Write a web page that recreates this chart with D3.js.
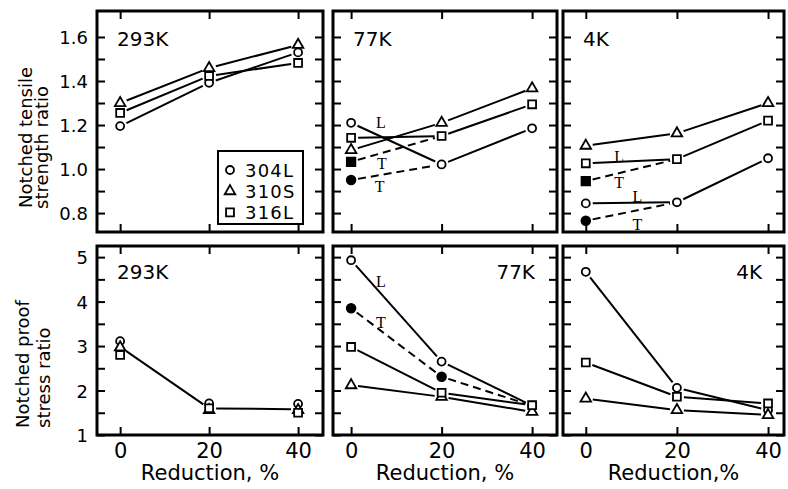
<!DOCTYPE html>
<html>
<head>
<meta charset="utf-8">
<script src="https://cdn.jsdelivr.net/npm/d3@7"></script>
<style>
  body { margin: 0; background: #fff; }
  text { font-family: "DejaVu Sans", sans-serif; fill: #000; }
  .serif { font-family: "Liberation Serif", serif; }
</style>
</head>
<body>
<svg id="chart"></svg>
<script>

const reduction = [0, 20, 40];
const materials = ['304L', '310S', '316L'];
const temps = ['293K', '77K', '4K'];
const ntsTicks = [0.8, 0.9, 1.0, 1.1, 1.2, 1.3, 1.4, 1.5, 1.6];
const ntsLabels = [0.8, 1.0, 1.2, 1.4, 1.6];
const npsTicks = [1, 1.5, 2, 2.5, 3, 3.5, 4, 4.5, 5];
const npsLabels = [1, 2, 3, 4, 5];

// notched tensile strength ratio (L = open marker, T = filled marker)
const nts293_304L = [1.195, 1.392, 1.530];
const nts293_310S = [1.300, 1.459, 1.564];
const nts293_316L = [1.255, 1.423, 1.482];

const nts77_304L_L = [1.210, 1.021, 1.185];
const nts77_304L_T = [0.950];
const nts77_310S = [1.086, 1.210, 1.367];
const nts77_316L_L = [1.142, 1.150, 1.294];
const nts77_316L_T = [1.033];

const nts4_304L_L = [0.844, 0.849, 1.049];
const nts4_304L_T = [0.765];
const nts4_310S = [1.106, 1.162, 1.300];
const nts4_316L_L = [1.026, 1.045, 1.220];
const nts4_316L_T = [0.945];

// notched proof stress ratio
const nps293_304L = [3.11, 1.71, 1.70];
const nps293_310S = [2.97, 1.56, 1.56];
const nps293_316L = [2.80, 1.60, 1.50];
const nps293_trend = [2.98, 1.60, 1.58];

const nps77_304L_L = [4.93, 2.65, 1.66];
const nps77_304L_T = [3.85, 2.31];
const nps77_310S = [2.12, 1.86, 1.52];
const nps77_316L = [2.98, 1.95, 1.67];

const nps4_304L = [4.67, 2.06, 1.56];
const nps4_310S = [1.82, 1.56, 1.45];
const nps4_316L = [2.63, 1.86, 1.71];

// L / T notes: [reduction, ratio, text]
const notes77top = [[6.6, 1.214, 'L'], [6.8, 1.027, 'T'], [6.3, 0.923, 'T']];
const notes4top = [[7.3, 1.056, 'L'], [7.3, 0.941, 'T'], [11.3, 0.874, 'L'], [11.3, 0.75, 'T']];
const notes77bot = [[6.6, 4.445, 'L'], [6.6, 3.53, 'T']];

const width = 788;
const height = 489;

const svg = d3.select('#chart')
  .attr('width', width)
  .attr('height', height);

const cols = [
  { x0: 97, x1: 323, dom: [-5.2, 45.6] },
  { x0: 333, x1: 557, dom: [-4, 45.5] },
  { x0: 563, x1: 784, dom: [-5, 43.5] }
];
const rows = [
  { y0: 11, y1: 232, dom: [0.714, 1.718], ticks: ntsTicks, labels: ntsLabels, fmt: d3.format('.1f') },
  { y0: 246, y1: 435, dom: [1, 5.25], ticks: npsTicks, labels: npsLabels, fmt: d3.format('d') }
];

const symbolType = { '304L': d3.symbolCircle, '310S': d3.symbolTriangle, '316L': d3.symbolSquare };
const symbolSize = { '304L': 50, '310S': 48, '316L': 62 };

const panels = [
  { row: 0, col: 0, temp: temps[0], series: [
    { mat: '304L', values: nts293_304L },
    { mat: '310S', values: nts293_310S },
    { mat: '316L', values: nts293_316L }
  ] },
  { row: 0, col: 1, temp: temps[1], notes: notes77top, series: [
    { mat: '304L', values: nts77_304L_L },
    { mat: '304L', values: nts77_304L_T, filled: true, join: nts77_304L_L },
    { mat: '310S', values: nts77_310S },
    { mat: '316L', values: nts77_316L_L },
    { mat: '316L', values: nts77_316L_T, filled: true, join: nts77_316L_L }
  ] },
  { row: 0, col: 2, temp: temps[2], notes: notes4top, series: [
    { mat: '304L', values: nts4_304L_L },
    { mat: '304L', values: nts4_304L_T, filled: true, join: nts4_304L_L },
    { mat: '310S', values: nts4_310S },
    { mat: '316L', values: nts4_316L_L },
    { mat: '316L', values: nts4_316L_T, filled: true, join: nts4_316L_L }
  ] },
  { row: 1, col: 0, temp: temps[0], series: [
    { values: nps293_trend, noMarker: true },
    { mat: '304L', values: nps293_304L, noLine: true },
    { mat: '310S', values: nps293_310S, noLine: true },
    { mat: '316L', values: nps293_316L, noLine: true }
  ] },
  { row: 1, col: 1, temp: temps[1], tempRight: true, notes: notes77bot, series: [
    { mat: '304L', values: nps77_304L_L },
    { mat: '304L', values: nps77_304L_T, filled: true, join: nps77_304L_L },
    { mat: '310S', values: nps77_310S },
    { mat: '316L', values: nps77_316L }
  ] },
  { row: 1, col: 2, temp: temps[2], tempRight: true, series: [
    { mat: '304L', values: nps4_304L },
    { mat: '310S', values: nps4_310S },
    { mat: '316L', values: nps4_316L }
  ] }
];

// shorten a segment so it stops short of the markers
function segments(pts, gap) {
  const out = [];
  for (let i = 1; i < pts.length; i++) {
    const [ax, ay] = pts[i - 1];
    const [bx, by] = pts[i];
    const len = Math.hypot(bx - ax, by - ay);
    if (len < 2 * gap + 2) continue;
    const ux = (bx - ax) / len, uy = (by - ay) / len;
    out.push([ax + ux * gap, ay + uy * gap, bx - ux * gap, by - uy * gap]);
  }
  return out;
}

panels.forEach(function (p) {
  const c = cols[p.col];
  const r = rows[p.row];
  const x = d3.scaleLinear().domain(c.dom).range([c.x0, c.x1]);
  const y = d3.scaleLinear().domain(r.dom).range([r.y1, r.y0]);

  const g = svg.append('g').attr('class', 'panel');

  // inward ticks on all four sides
  const left = g.append('g')
    .attr('transform', 'translate(' + c.x0 + ',0)')
    .call(d3.axisLeft(y).tickValues(r.ticks).tickSize(-8).tickPadding(9)
      .tickFormat(d => (p.col === 0 && r.labels.some(v => Math.abs(v - d) < 1e-6)) ? r.fmt(d) : ''));
  left.select('.domain').remove();
  left.selectAll('line').attr('stroke', '#000').attr('stroke-width', 2);
  left.selectAll('text').style('font-size', '18px').attr('dy', '0.36em');

  const right = g.append('g')
    .attr('transform', 'translate(' + c.x1 + ',0)')
    .call(d3.axisRight(y).tickValues(r.ticks).tickSize(-8).tickFormat(''));
  right.select('.domain').remove();
  right.selectAll('line').attr('stroke', '#000').attr('stroke-width', 2);

  const top = g.append('g')
    .attr('transform', 'translate(0,' + r.y0 + ')')
    .call(d3.axisTop(x).tickValues(reduction).tickSize(-8).tickFormat(''));
  top.select('.domain').remove();
  top.selectAll('line').attr('stroke', '#000').attr('stroke-width', 2);

  const bottom = g.append('g')
    .attr('transform', 'translate(0,' + r.y1 + ')')
    .call(d3.axisBottom(x).tickValues(reduction).tickSize(-8).tickPadding(8)
      .tickFormat(d => p.row === 1 ? d : ''));
  bottom.select('.domain').remove();
  bottom.selectAll('line').attr('stroke', '#000').attr('stroke-width', 2);
  bottom.selectAll('text').style('font-size', '21px');

  // frame
  g.append('rect')
    .attr('x', c.x0)
    .attr('y', r.y0)
    .attr('width', c.x1 - c.x0)
    .attr('height', r.y1 - r.y0)
    .attr('fill', 'none')
    .attr('stroke', '#000')
    .attr('stroke-width', 3);

  // lines
  p.series.forEach(function (s) {
    if (s.noLine) return;
    const pts = s.values.map((v, i) => [x(reduction[i]), y(v)]);
    if (s.join) {
      const n = s.values.length;
      pts.push([x(reduction[n]), y(s.join[n])]);
    }
    g.selectAll(null)
      .data(segments(pts, 7))
      .enter().append('line')
      .attr('x1', d => d[0]).attr('y1', d => d[1])
      .attr('x2', d => d[2]).attr('y2', d => d[3])
      .attr('stroke', '#000')
      .attr('stroke-width', 2)
      .attr('stroke-dasharray', s.filled ? '8,5' : null);
  });

  // markers
  p.series.forEach(function (s) {
    if (s.noMarker) return;
    g.selectAll(null)
      .data(s.values)
      .enter().append('path')
      .attr('transform', (v, i) => 'translate(' + x(reduction[i]) + ',' + y(v) + ')')
      .attr('d', d3.symbol().type(symbolType[s.mat]).size(s.filled ? symbolSize[s.mat] + 10 : symbolSize[s.mat]))
      .attr('fill', s.filled ? '#000' : '#fff')
      .attr('stroke', '#000')
      .attr('stroke-width', 1.8);
  });

  // L / T notes
  if (p.notes) {
    g.selectAll(null)
      .data(p.notes)
      .enter().append('text')
      .attr('class', 'serif')
      .attr('x', d => x(d[0]))
      .attr('y', d => y(d[1]))
      .attr('dy', '0.35em')
      .attr('text-anchor', 'middle')
      .style('font-size', '16px')
      .text(d => d[2]);
  }

  // temperature label
  g.append('text')
    .attr('x', p.tempRight ? c.x1 - 22 : c.x0 + 20)
    .attr('y', p.row === 0 ? r.y0 + 35 : r.y0 + 33)
    .attr('text-anchor', p.tempRight ? 'end' : 'start')
    .style('font-size', '20px')
    .text(p.temp);

  if (p.row === 1) {
    g.append('text')
      .attr('x', (c.x0 + c.x1) / 2)
      .attr('y', 480)
      .attr('text-anchor', 'middle')
      .style('font-size', '21px')
      .text(p.col === 2 ? 'Reduction,%' : 'Reduction, %');
  }
});

// legend
const legendItems = materials.map((m, i) => ({ mat: m, i: i }));
const legend = svg.append('g').attr('class', 'legend');
legend.append('rect')
  .attr('x', 218).attr('y', 151)
  .attr('width', 85).attr('height', 73)
  .attr('fill', '#fff')
  .attr('stroke', '#000')
  .attr('stroke-width', 2);
legend.selectAll('path')
  .data(legendItems)
  .enter().append('path')
  .attr('transform', d => 'translate(230,' + (170 + d.i * 21.2) + ')')
  .attr('d', d => d3.symbol().type(symbolType[d.mat]).size(symbolSize[d.mat])())
  .attr('fill', '#fff')
  .attr('stroke', '#000')
  .attr('stroke-width', 1.8);
legend.selectAll('text')
  .data(legendItems)
  .enter().append('text')
  .attr('x', 245)
  .attr('y', d => 177 + d.i * 21.2)
  .style('font-size', '18px')
  .style('letter-spacing', '1.2px')
  .text(d => d.mat);

// y axis titles
const titles = [
  { x: 32, y: 208, t: 'Notched tensile' },
  { x: 48, y: 209, t: 'strength ratio' },
  { x: 29, y: 428, t: 'Notched proof' },
  { x: 50, y: 428, t: 'stress ratio' }
];
svg.selectAll('.ytitle')
  .data(titles)
  .enter().append('text')
  .attr('class', 'ytitle')
  .attr('transform', d => 'translate(' + d.x + ',' + d.y + ') rotate(-90)')
  .style('font-size', '18px')
  .text(d => d.t);

</script>
</body>
</html>
